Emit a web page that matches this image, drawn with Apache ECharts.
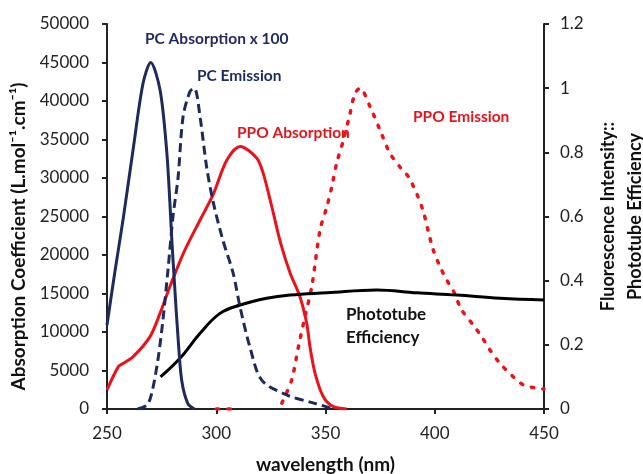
<!DOCTYPE html>
<html>
<head>
<meta charset="utf-8">
<script src="https://cdn.jsdelivr.net/npm/echarts@6/dist/echarts.min.js"></script>
<style>
    html, body { margin: 0; padding: 0; background: #fff; }
    #chart { width: 643px; height: 474px; }
</style>
</head>
<body>
<div id="chart"></div>
<script>
// PC absorption (x100), left axis
const pcAbsWl = [250, 253.7, 257.3, 261.9, 266.5, 270, 274.3, 277.3, 278.8, 279.6, 281, 282.5, 284.2, 287, 290]
const pcAbsVal = [10900, 18000, 24500, 33600, 42300, 45000, 41400, 33600, 26700, 22300, 15800, 9300, 3700, 700, 0]

// PC emission, right axis
const pcEmWl = [264, 268.3, 270.5, 273.3, 275.6, 277.9, 280.2, 282.5, 284.8, 288, 290, 292.6, 295.6, 298.6, 303, 307.7, 310.9, 315.4, 320.8, 332.2, 344.3, 351, 353]
const pcEmVal = [0, 0.012, 0.05, 0.153, 0.277, 0.433, 0.6, 0.72, 0.91, 0.99, 1.0, 0.91, 0.754, 0.645, 0.527, 0.424, 0.318, 0.193, 0.09, 0.044, 0.019, 0.006, 0]

// PPO absorption, left axis
const ppoAbsWl = [250, 255.2, 257.3, 262, 269.7, 274.3, 278.8, 285, 292.6, 298.5, 304.8, 310.9, 318.5, 321.5, 325.4, 329.5, 333.8, 338.3, 341.4, 342.9, 345.2, 349, 353.6, 359.7]
const ppoAbsVal = [2470, 5500, 5900, 6800, 9400, 12450, 15900, 20250, 24550, 27800, 32300, 34100, 32600, 30600, 26300, 21500, 17650, 14580, 11130, 8090, 4670, 1600, 300, 0]

// PPO emission, right axis ('-' = gap)
const ppoEmWl = [300, 310, 320, 330, 334.5, 337.6, 340.6, 343.7, 347.5, 350.6, 352.9, 355.1, 358.2, 361.2, 363.5, 365.8, 370.4, 374.9, 379.5, 384, 387.9, 391.7, 394.8, 397, 399.3, 402.4, 405.5, 408.5, 412.3, 417.6, 421.5, 425.3, 429.9, 436, 440.6, 447.4, 450]
const ppoEmVal = [0, 0, '-', 0.018, 0.09, 0.194, 0.288, 0.381, 0.558, 0.63, 0.693, 0.766, 0.838, 0.92, 0.984, 1.0, 0.942, 0.87, 0.797, 0.755, 0.724, 0.672, 0.615, 0.555, 0.496, 0.444, 0.402, 0.368, 0.309, 0.262, 0.225, 0.184, 0.142, 0.1, 0.075, 0.064, 0.062]

// Phototube efficiency, right axis
const tubeWl = [274.5, 283.4, 292.6, 301.7, 310.9, 323.1, 333.8, 350.6, 373.4, 391.7, 410, 429.9, 450]
const tubeVal = [0.1, 0.158, 0.236, 0.298, 0.324, 0.345, 0.355, 0.362, 0.371, 0.362, 0.355, 0.345, 0.34]

const navy = "#1f2a5c"
const red = "#e8131b"
const font = "Lato"

const pairs = (xs, ys) => xs.map((x, i) => [x, ys[i]])

const chart = echarts.init(document.getElementById("chart"), null, {renderer: "canvas"})

const axisStyle = {
    axisLine: {show: true, lineStyle: {color: "#222", width: 2}},
    axisTick: {show: true, inside: false, length: 5, lineStyle: {color: "#222", width: 2}},
    splitLine: {show: false}
}

const option = {
    animation: false,
    backgroundColor: "#fff",
    textStyle: {fontFamily: font},
    grid: {left: 107, right: 99, top: 24, bottom: 65, containLabel: false, outerBoundsMode: "none"},
    xAxis: {
        type: "value",
        min: 250, max: 450, interval: 50,
        name: "wavelength (nm)",
        nameLocation: "middle",
        nameGap: 46,
        nameTextStyle: {fontFamily: font, fontSize: 19, fontWeight: "bold", color: "#111"},
        axisLabel: {fontFamily: font, fontSize: 17, color: "#222", margin: 16},
        ...axisStyle
    },
    yAxis: [
        {
            type: "value",
            min: 0, max: 50000, interval: 5000,
            name: "Absorption Coefficient (L.mol⁻¹.cm⁻¹)",
            nameLocation: "middle",
            nameRotate: 90,
            nameGap: 70,
            nameTextStyle: {fontFamily: font, fontSize: 19, fontWeight: "bold", color: "#111", padding: [0, 40, 0, 0]},
            axisLabel: {fontFamily: font, fontSize: 17, color: "#222", margin: 18, formatter: v => String(v)},
            ...axisStyle
        },
        {
            type: "value",
            position: "right",
            min: 0, max: 1.2, interval: 0.2,
            name: "Fluorescence Intensity::\nPhototube Efficiency",
            nameLocation: "middle",
            nameRotate: 90,
            nameGap: 44,
            nameTextStyle: {fontFamily: font, fontSize: 18, fontWeight: "bold", color: "#111", lineHeight: 27},
            axisLabel: {fontFamily: font, fontSize: 17, color: "#222", margin: 16},
            ...axisStyle
        }
    ],
    series: [
        {
            name: "PPO Absorption", type: "line", yAxisIndex: 0, smooth: 0.3, symbol: "none",
            lineStyle: {color: red, width: 3},
            data: pairs(ppoAbsWl, ppoAbsVal)
        },
        {
            name: "PPO Emission", type: "line", yAxisIndex: 1, smooth: 0.3, symbol: "none",
            lineStyle: {color: red, width: 3.5, type: [2.5, 9], cap: "round"},
            data: pairs(ppoEmWl, ppoEmVal)
        },
        {
            name: "Phototube Efficiency", type: "line", yAxisIndex: 1, smooth: 0.4, symbol: "none",
            lineStyle: {color: "#000", width: 3},
            data: pairs(tubeWl, tubeVal)
        },
        {
            name: "PC Emission", type: "line", yAxisIndex: 1, smooth: 0.3, symbol: "none",
            lineStyle: {color: navy, width: 3, type: [9, 5]},
            data: pairs(pcEmWl, pcEmVal)
        },
        {
            name: "PC Absorption x 100", type: "line", yAxisIndex: 0, smooth: 0.3, symbol: "none",
            lineStyle: {color: navy, width: 3},
            data: pairs(pcAbsWl, pcAbsVal)
        }
    ],
    graphic: [
        {type: "text", left: 145, top: 31, style: {text: "PC Absorption x 100", font: "bold 15.5px Lato", fill: navy}},
        {type: "text", left: 197, top: 68, style: {text: "PC Emission", font: "bold 15.5px Lato", fill: navy}},
        {type: "text", left: 237, top: 125, style: {text: "PPO Absorption", font: "bold 15.5px Lato", fill: red}},
        {type: "text", left: 413, top: 109, style: {text: "PPO Emission", font: "bold 15.5px Lato", fill: red}},
        {type: "text", left: 346, top: 303, style: {text: "Phototube\nEfficiency", font: "bold 17px Lato", fill: "#111", lineHeight: 23}}
    ]
}

chart.setOption(option)
</script>
</body>
</html>
